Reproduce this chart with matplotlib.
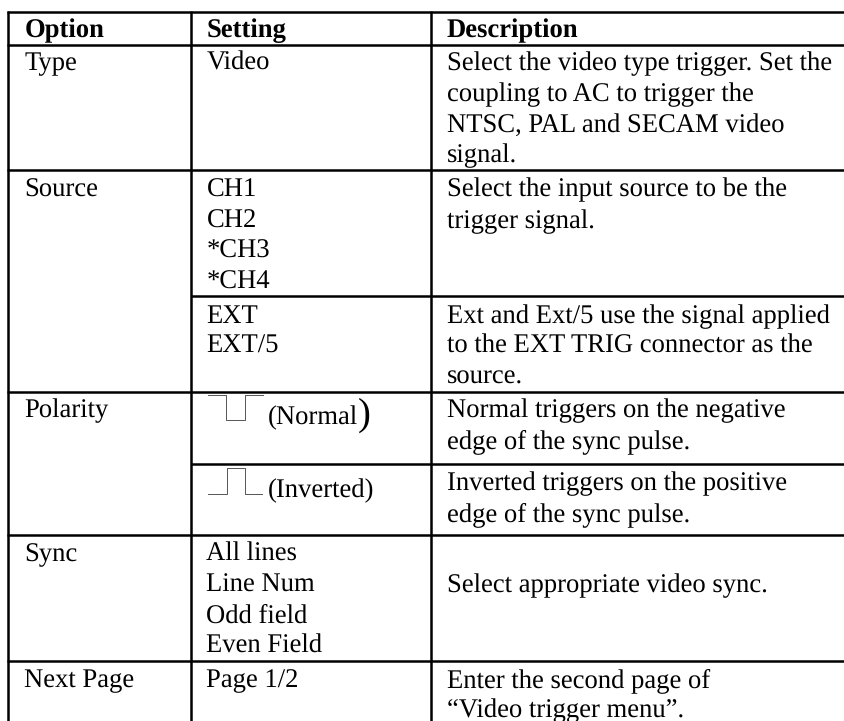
import matplotlib
matplotlib.use('Agg')
import matplotlib.pyplot as plt

plt.rcParams['font.family'] = ['Liberation Serif', 'DejaVu Serif']
plt.rcParams['text.hinting'] = 'no_hinting'

header = ['Option', 'Setting', 'Description']
options = ['Type', 'Source', 'Polarity', 'Sync', 'Next Page']
settings = ['Video', 'CH1', 'CH2', '*CH3', '*CH4', 'EXT', 'EXT/5',
            'All lines', 'Line Num', 'Odd field', 'Even Field', 'Page 1/2']
descriptions = ['Select the video type trigger. Set the',
                'coupling to AC to trigger the',
                'NTSC, PAL and SECAM video',
                'signal.',
                'Select the input source to be the',
                'trigger signal.',
                'Ext and Ext/5 use the signal applied',
                'to the EXT TRIG connector as the',
                'source.',
                'Normal triggers on the negative',
                'edge of the sync pulse.',
                'Inverted triggers on the positive',
                'edge of the sync pulse.',
                'Select appropriate video sync.',
                'Enter the second page of',
                '\u201cVideo trigger menu\u201d.']
pol_normal = '(Normal'
pol_inverted = '(Inverted)'

# baselines in pixels from the top
header_y = 37.5
options_y = [70, 196.7, 417, 561, 687]
settings_y = [70, 196.7, 227.7, 258, 288.7, 322.7, 353, 561, 591.7, 622.5, 653, 687]
descriptions_y = [70, 101, 131.7, 162, 196.7, 227.7, 322.7, 353, 384, 417, 448,
                  490, 520.7, 592, 687, 717.3]

col_x = [24.5, 206.5, 447]
# rules: y, x start
full_rules = [11.5, 44.5, 169.5, 392, 534.5, 660.5]
part_rules = [295.5, 464]
col_rules = [7.5, 191, 431]

# little pulse symbols in the Setting column
normal_x = [208, 226, 226, 245, 245, 263]
normal_y = [394.7, 394.7, 420.3, 420.3, 394.7, 394.7]
inverted_x = [208, 227, 227, 245, 245, 262]
inverted_y = [493.7, 493.7, 468, 468, 493.7, 493.7]

fs = 19.2
W, H = 844, 721

fig = plt.figure(figsize=(W / 100, H / 100), dpi=100)
ax = fig.add_axes([0, 0, 1, 1])
ax.set_xlim(0, W)
ax.set_ylim(H, 0)
ax.axis('off')

lw = 1.8
for y in full_rules:
    ax.plot([col_rules[0] - 1, W], [y, y], color='black', lw=lw, solid_capstyle='butt')
for y in part_rules:
    ax.plot([col_rules[1], W], [y, y], color='black', lw=lw, solid_capstyle='butt')
for x in col_rules:
    ax.plot([x, x], [10.5, H], color='black', lw=lw, solid_capstyle='butt')

for x, t in zip(col_x, header):
    ax.text(x, header_y, t, fontsize=fs, fontweight='bold', va='baseline', color='black')
for t, y in zip(options, options_y):
    ax.text(col_x[0], y, t, fontsize=fs, va='baseline', color='black')
for t, y in zip(settings, settings_y):
    ax.text(col_x[1], y, t, fontsize=fs, va='baseline', color='black')
for t, y in zip(descriptions, descriptions_y):
    ax.text(col_x[2], y, t, fontsize=fs, va='baseline', color='black')

ax.plot(normal_x, normal_y, color='#555555', lw=0.7)
ax.plot(inverted_x, inverted_y, color='#555555', lw=0.7)
ax.text(267.5, 424, pol_normal, fontsize=fs, va='baseline', color='black')
ax.text(358, 425, ')', fontsize=fs * 1.45, va='baseline', color='black')
ax.text(267.5, 497.7, pol_inverted, fontsize=fs, va='baseline', color='black')

fig.savefig('out.png', dpi=100)
